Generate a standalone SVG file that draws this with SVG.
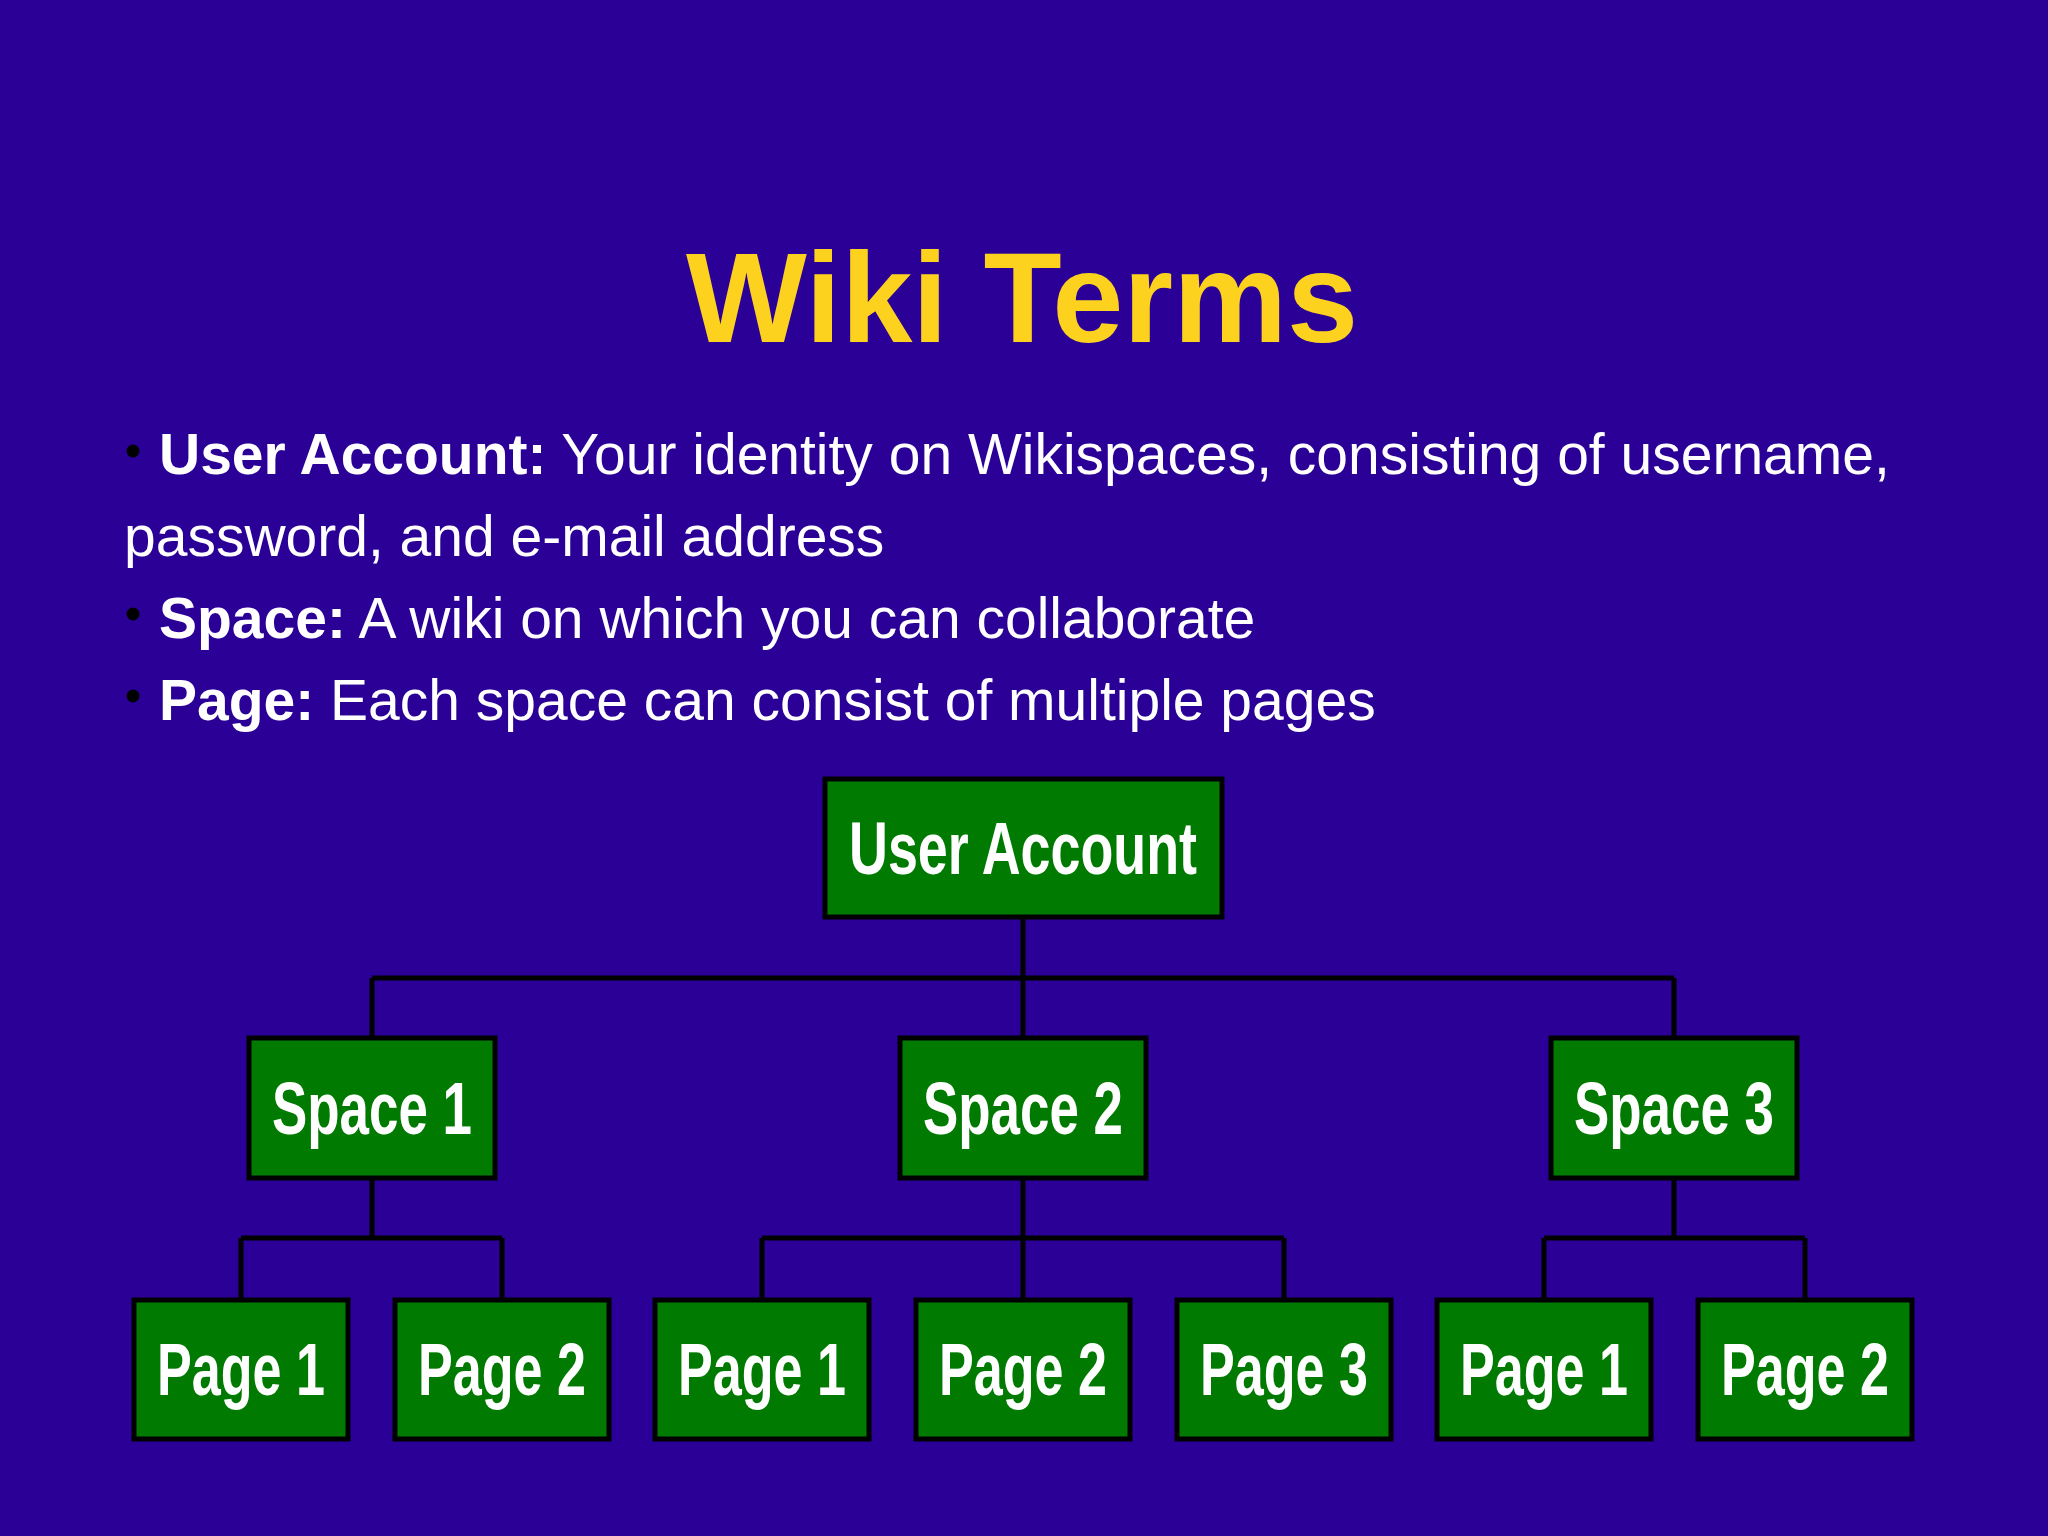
<svg xmlns="http://www.w3.org/2000/svg" width="2048" height="1536" viewBox="0 0 2048 1536">
<style>
.bg{fill:#2A0096}
.title{font-family:"Liberation Sans",Arial,sans-serif;font-weight:bold;font-size:128px;fill:#FDD21F;text-anchor:middle}
.body{font-family:"Liberation Sans",Arial,sans-serif;font-size:57px;fill:#FFFFFF}
.b{font-weight:bold}
.dot{fill:#000000}
.box{fill:#007A00;stroke:#000000;stroke-width:5}
.lbl{font-family:"Liberation Sans",Arial,sans-serif;font-weight:bold;font-size:74px;fill:#FFFFFF;text-anchor:middle}
.conn{fill:none;stroke:#000000;stroke-width:5}
</style>
<rect class="bg" x="0" y="0" width="2048" height="1536"/>
<text id="title" class="title" x="1022" y="342">Wiki Terms</text>
<g id="bullets">
<circle class="dot" cx="133" cy="451" r="6.5"/>
<text class="body" x="159" y="474"><tspan class="b">User Account:</tspan> Your identity on Wikispaces, consisting of username,</text>
<text class="body" x="124" y="556">password, and e-mail address</text>
<circle class="dot" cx="133" cy="614" r="6.5"/>
<text class="body" x="159" y="638"><tspan class="b">Space:</tspan> A wiki on which you can collaborate</text>
<circle class="dot" cx="133" cy="696" r="6.5"/>
<text class="body" x="159" y="720"><tspan class="b">Page:</tspan> Each space can consist of multiple pages</text>
</g>
<g id="connectors">
<path class="conn" d="M1023 917 V978 M372 978 H1674 M372 978 V1038 M1023 978 V1038 M1674 978 V1038"/>
<path class="conn" d="M372 1178 V1238 M241 1238 H502 M241 1238 V1300 M502 1238 V1300"/>
<path class="conn" d="M1023 1178 V1238 M762 1238 H1284 M762 1238 V1300 M1023 1238 V1300 M1284 1238 V1300"/>
<path class="conn" d="M1674 1178 V1238 M1544 1238 H1805 M1544 1238 V1300 M1805 1238 V1300"/>
</g>
<g id="user-account"><rect class="box" x="825" y="779" width="397" height="138"/><text class="lbl" x="1023" y="874" textLength="348" lengthAdjust="spacingAndGlyphs">User Account</text></g>
<g id="space1"><rect class="box" x="249" y="1038" width="246" height="140"/><text class="lbl" x="372" y="1134" textLength="200" lengthAdjust="spacingAndGlyphs">Space 1</text></g>
<g id="space2"><rect class="box" x="900" y="1038" width="246" height="140"/><text class="lbl" x="1023" y="1134" textLength="200" lengthAdjust="spacingAndGlyphs">Space 2</text></g>
<g id="space3"><rect class="box" x="1551" y="1038" width="246" height="140"/><text class="lbl" x="1674" y="1134" textLength="200" lengthAdjust="spacingAndGlyphs">Space 3</text></g>
<g id="s1-page1"><rect class="box" x="134" y="1300" width="214" height="139"/><text class="lbl" x="241" y="1395" textLength="168" lengthAdjust="spacingAndGlyphs">Page 1</text></g>
<g id="s1-page2"><rect class="box" x="395" y="1300" width="214" height="139"/><text class="lbl" x="502" y="1395" textLength="168" lengthAdjust="spacingAndGlyphs">Page 2</text></g>
<g id="s2-page1"><rect class="box" x="655" y="1300" width="214" height="139"/><text class="lbl" x="762" y="1395" textLength="168" lengthAdjust="spacingAndGlyphs">Page 1</text></g>
<g id="s2-page2"><rect class="box" x="916" y="1300" width="214" height="139"/><text class="lbl" x="1023" y="1395" textLength="168" lengthAdjust="spacingAndGlyphs">Page 2</text></g>
<g id="s2-page3"><rect class="box" x="1177" y="1300" width="214" height="139"/><text class="lbl" x="1284" y="1395" textLength="168" lengthAdjust="spacingAndGlyphs">Page 3</text></g>
<g id="s3-page1"><rect class="box" x="1437" y="1300" width="214" height="139"/><text class="lbl" x="1544" y="1395" textLength="168" lengthAdjust="spacingAndGlyphs">Page 1</text></g>
<g id="s3-page2"><rect class="box" x="1698" y="1300" width="214" height="139"/><text class="lbl" x="1805" y="1395" textLength="168" lengthAdjust="spacingAndGlyphs">Page 2</text></g>
</svg>
